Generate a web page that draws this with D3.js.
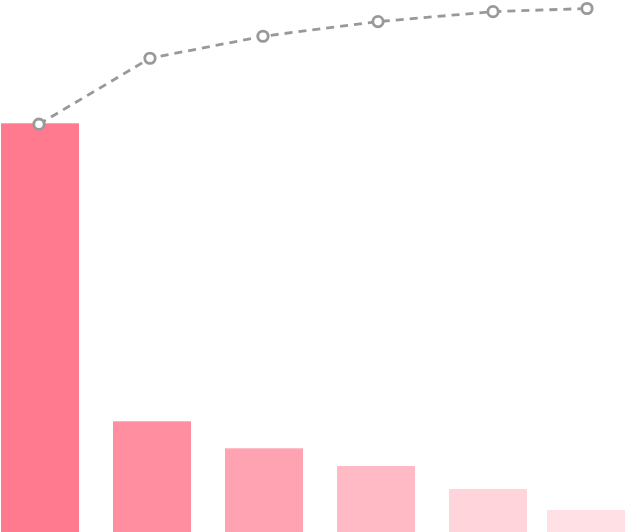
<!DOCTYPE html>
<html>
<head>
  <meta charset="utf-8">
  <script src="https://d3js.org/d3.v7.min.js"></script>
</head>
<style>
  body { margin: 0; background: #fff; }
  svg { display: block; }
  .line {
    fill: none;
    stroke: #999;
    stroke-width: 2.8;
    stroke-dasharray: 8, 6;
  }
  .dot {
    fill: #fff;
    stroke: #999;
    stroke-width: 2.8;
  }
</style>
<body>
  <script>
    // bars
    var categories = ['A', 'B', 'C', 'D', 'E', 'F'];
    var counts = [408.7, 110.7, 83.7, 66, 43, 22];
    var colors = ['#ff7a8f', '#ff8ea0', '#ffa3b2', '#ffbac6', '#ffd4db', '#ffe0e5'];

    // cumulative line (percent) and where each point sits along the axis
    var cumulative = [77.9, 90.5, 94.7, 97.5, 99.4, 100];
    var linePos = [0.348, 1.339, 2.348, 3.375, 4.402, 5.241];

    var width = 625,
        height = 532;

    var svg = d3.select('body').append('svg')
      .attr('width', width)
      .attr('height', height);

    var x = d3.scaleBand()
      .domain(categories)
      .range([1, 639])
      .paddingInner(34 / 112)
      .paddingOuter(0);

    var y = d3.scaleLinear()
      .domain([0, 532])
      .range([height, 0]);

    var yLine = d3.scaleLinear()
      .domain([0, 100])
      .range([height, 8.5]);

    var xLine = d3.scaleLinear()
      .domain([0, 6])
      .range([0, 672]);

    var bw = x.bandwidth();

    svg.selectAll('rect.bar')
      .data(counts)
      .enter().append('rect')
      .attr('class', 'bar')
      // keep the last bar inside the frame
      .attr('x', function(d, i) { return Math.min(x(categories[i]), width - bw); })
      .attr('y', function(d) { return y(d); })
      .attr('width', bw)
      .attr('height', function(d) { return height - y(d); })
      .attr('fill', function(d, i) { return colors[i]; });

    var line = d3.line()
      .x(function(d, i) { return xLine(linePos[i]); })
      .y(function(d) { return yLine(d); });

    svg.append('path')
      .datum(cumulative)
      .attr('class', 'line')
      .attr('d', line);

    svg.selectAll('circle.dot')
      .data(cumulative)
      .enter().append('circle')
      .attr('class', 'dot')
      .attr('cx', function(d, i) { return xLine(linePos[i]); })
      .attr('cy', function(d) { return yLine(d); })
      .attr('r', 5.2);
  </script>
</body>
</html>
